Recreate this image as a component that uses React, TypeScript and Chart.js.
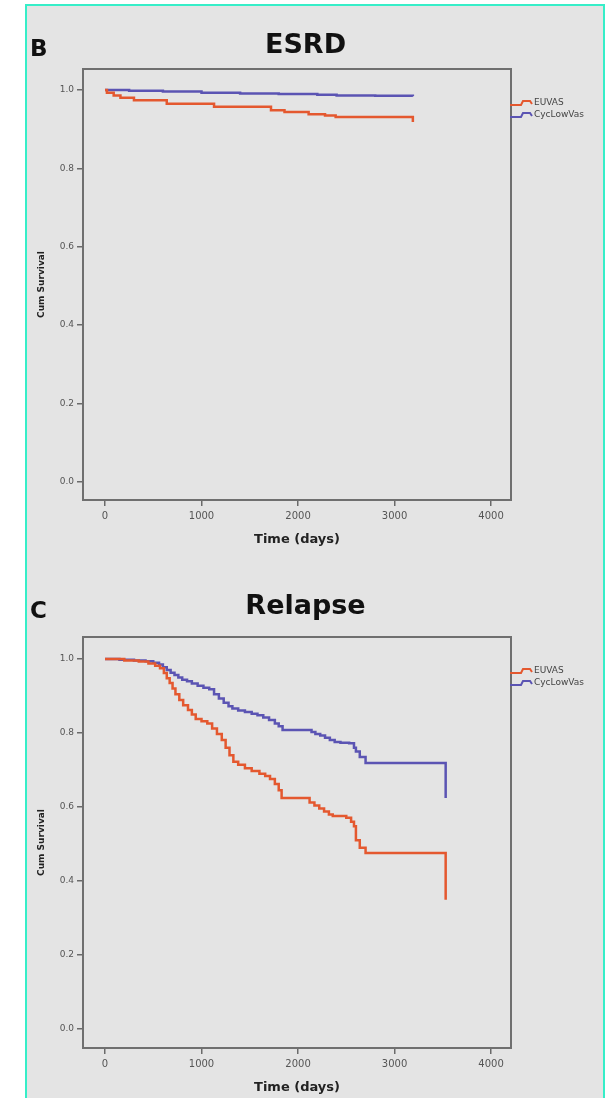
import React, { useEffect, useRef } from 'react';
import { Chart, registerables } from 'chart.js';

Chart.register(...registerables);

// ---------- data ----------
const seriesNames = ['EUVAS', 'CycLowVas'];
const seriesColors = ['#e4582f', '#5b54b3'];
const xTicks = [0, 1000, 2000, 3000, 4000];
const yTicks = [0, 0.2, 0.4, 0.6, 0.8, 1.0];

// ESRD (panel B)
const esrdEuvasDays = [0, 20, 90, 160, 300, 640, 1130, 1720, 1860, 2110, 2280, 2390, 3190];
const esrdEuvasSurv = [1.0, 0.993, 0.986, 0.98, 0.974, 0.965, 0.957, 0.948, 0.944, 0.938, 0.935, 0.931, 0.918];
const esrdCycDays = [0, 250, 600, 1000, 1400, 1800, 2200, 2400, 2800, 3190];
const esrdCycSurv = [1.0, 0.998, 0.996, 0.993, 0.991, 0.99, 0.988, 0.986, 0.985, 0.984];

// Relapse (panel C)
const relEuvasDays = [0, 200, 350, 450, 520, 570, 610, 640, 670, 700, 730, 770, 810, 860, 900, 940, 1000, 1060, 1110, 1160, 1210, 1250, 1290, 1330, 1380, 1450, 1520, 1600, 1660, 1710, 1760, 1800, 1830, 2120, 2170, 2220, 2270, 2320, 2360, 2500, 2550, 2580, 2600, 2640, 2700, 3530];
const relEuvasSurv = [1.0, 0.996, 0.993, 0.988, 0.982, 0.975, 0.962, 0.948, 0.935, 0.92, 0.905, 0.889, 0.875, 0.862, 0.85, 0.838, 0.832, 0.826, 0.812, 0.797, 0.781, 0.76, 0.74, 0.722, 0.714, 0.705, 0.697, 0.69, 0.684, 0.676, 0.662, 0.645, 0.624, 0.612, 0.604, 0.596, 0.588, 0.58, 0.576, 0.571, 0.56, 0.548, 0.51, 0.49, 0.476, 0.349];
const relCycDays = [0, 150, 300, 420, 500, 560, 600, 640, 680, 720, 760, 800, 850, 900, 960, 1020, 1080, 1130, 1180, 1230, 1280, 1320, 1380, 1450, 1520, 1580, 1640, 1700, 1760, 1800, 1840, 2140, 2180, 2230, 2280, 2330, 2380, 2440, 2530, 2580, 2600, 2640, 2700, 3530];
const relCycSurv = [1.0, 0.998, 0.996, 0.994, 0.99, 0.985, 0.978, 0.97, 0.963, 0.957, 0.95, 0.944, 0.94, 0.934, 0.928, 0.922, 0.918, 0.905, 0.893, 0.882, 0.872, 0.866, 0.861, 0.857, 0.852, 0.848, 0.842, 0.835, 0.826, 0.818, 0.808, 0.803, 0.797, 0.793, 0.787, 0.781, 0.776, 0.774, 0.772, 0.76, 0.75, 0.735, 0.719, 0.624];

const FONT = '"DejaVu Sans", "Liberation Sans", Arial, sans-serif';

type PanelSpec = {
  letter: string;
  title: string;
  days: number[][];
  surv: number[][];
  yMin: number;
  yMax: number;
  xMin: number;
  xMax: number;
  titlePadTop: number;
  titlePadBottom: number;
  xAxisHeight: number;
  xTitlePadBottom: number;
  letterY: number;
};

function toPoints(days: number[], surv: number[]) {
  return days.map((d, i) => ({ x: d, y: surv[i] }));
}

function decorPlugin(spec: PanelSpec) {
  return {
    id: 'decor' + spec.letter,
    beforeDatasetsDraw(chart: any) {
      const { ctx, chartArea } = chart;
      ctx.save();
      ctx.strokeStyle = '#6f6f6f';
      ctx.lineWidth = 2;
      ctx.strokeRect(chartArea.left, chartArea.top, chartArea.right - chartArea.left, chartArea.bottom - chartArea.top);
      ctx.restore();
    },
    afterDraw(chart: any) {
      const { ctx, chartArea } = chart;
      ctx.save();
      // panel letter
      ctx.fillStyle = '#111';
      ctx.font = `bold 23px ${FONT}`;
      ctx.textBaseline = 'middle';
      ctx.textAlign = 'left';
      ctx.fillText(spec.letter, 30, spec.letterY);
      // legend
      seriesNames.forEach((name, i) => {
        const x = chartArea.right - 1;
        const y = chartArea.top + 34 + 12 * i;
        ctx.beginPath();
        ctx.moveTo(x, y + 2);
        ctx.lineTo(x + 11, y + 2);
        ctx.lineTo(x + 13, y - 2);
        ctx.lineTo(x + 20, y - 2);
        ctx.lineTo(x + 22, y + 1);
        ctx.strokeStyle = seriesColors[i];
        ctx.lineWidth = 2;
        ctx.stroke();
        ctx.fillStyle = '#444';
        ctx.font = `9px ${FONT}`;
        ctx.textBaseline = 'middle';
        ctx.fillText(name, x + 24, y);
      });
      ctx.restore();
    },
  };
}

function makeConfig(spec: PanelSpec): any {
  return {
    type: 'line',
    data: {
      datasets: seriesNames.map((name, i) => ({
        label: name,
        data: toPoints(spec.days[i], spec.surv[i]),
        borderColor: seriesColors[i],
        backgroundColor: seriesColors[i],
        borderWidth: 2.5,
        pointRadius: 0,
        stepped: 'before',
        fill: false,
        yAxisID: 'y',
        xAxisID: 'x',
      })),
    },
    options: {
      responsive: false,
      animation: false,
      events: [],
      layout: { padding: 0 },
      plugins: {
        legend: { display: false },
        tooltip: { enabled: false },
        title: {
          display: true,
          text: spec.title,
          color: '#111',
          font: { family: FONT, size: 27, weight: 'bold' },
          padding: { top: spec.titlePadTop, bottom: spec.titlePadBottom },
          fullSize: true,
        },
      },
      scales: {
        x: {
          type: 'linear',
          min: spec.xMin,
          max: spec.xMax,
          afterBuildTicks: (axis: any) => {
            axis.ticks = xTicks.map((v) => ({ value: v }));
          },
          afterFit: (axis: any) => {
            axis.height = spec.xAxisHeight;
          },
          ticks: {
            color: '#555',
            font: { family: FONT, size: 10 },
            padding: 4,
            maxRotation: 0,
            callback: (v: any) => String(v),
          },
          grid: { display: true, drawOnChartArea: false, drawTicks: true, tickLength: 6, color: '#6a6a6a', lineWidth: 1.5 },
          border: { display: false },
          title: {
            display: true,
            text: 'Time (days)',
            color: '#222',
            font: { family: FONT, size: 13, weight: 'bold' },
            padding: { top: 0, bottom: spec.xTitlePadBottom },
          },
        },
        y: {
          type: 'linear',
          position: 'left',
          min: spec.yMin,
          max: spec.yMax,
          afterBuildTicks: (axis: any) => {
            axis.ticks = yTicks.map((v) => ({ value: v }));
          },
          afterFit: (axis: any) => {
            axis.width = 83;
          },
          ticks: {
            color: '#555',
            font: { family: FONT, size: 9 },
            padding: 3,
            callback: (v: any) => Number(v).toFixed(1),
          },
          grid: { display: true, drawOnChartArea: false, drawTicks: true, tickLength: 6, color: '#6a6a6a', lineWidth: 1.5 },
          border: { display: false },
          title: {
            display: true,
            text: 'Cum Survival',
            color: '#222',
            font: { family: FONT, size: 9, weight: 'bold' },
            padding: { top: 36, bottom: 0 },
          },
        },
        legendSpace: {
          type: 'linear',
          position: 'right',
          display: true,
          min: 0,
          max: 1,
          ticks: { display: false },
          grid: { display: false, drawTicks: false },
          border: { display: false },
          afterFit: (axis: any) => {
            axis.width = 100;
          },
        },
      },
    },
    plugins: [decorPlugin(spec)],
  };
}

const esrdSpec: PanelSpec = {
  letter: 'B',
  title: 'ESRD',
  days: [esrdEuvasDays, esrdCycDays],
  surv: [esrdEuvasSurv, esrdCycSurv],
  yMin: -0.047,
  yMax: 1.0536,
  xMin: -228,
  xMax: 4207,
  titlePadTop: 30,
  titlePadBottom: 6.6,
  xAxisHeight: 55,
  xTitlePadBottom: 8,
  letterY: 50,
};

const relapseSpec: PanelSpec = {
  letter: 'C',
  title: 'Relapse',
  days: [relEuvasDays, relCycDays],
  surv: [relEuvasSurv, relCycSurv],
  yMin: -0.0514,
  yMax: 1.0595,
  xMin: -228,
  xMax: 4207,
  titlePadTop: 35.8,
  titlePadBottom: 13.8,
  xAxisHeight: 50,
  xTitlePadBottom: 3,
  letterY: 57,
};

function Panel({ spec, top, height }: { spec: PanelSpec; top: number; height: number }) {
  const ref = useRef<HTMLCanvasElement | null>(null);
  useEffect(() => {
    if (!ref.current) return;
    const chart = new Chart(ref.current, makeConfig(spec));
    return () => chart.destroy();
  }, [spec]);
  return (
    <canvas
      ref={ref}
      width={611}
      height={height}
      style={{ position: 'absolute', left: 0, top, width: 611, height }}
    />
  );
}

export default function App() {
  return (
    <div style={{ position: 'absolute', left: 0, top: 0, width: 611, height: 1098, overflow: 'hidden', background: '#ffffff' }}>
      <div
        style={{
          position: 'absolute',
          left: 25,
          top: 4,
          width: 580,
          height: 1120,
          border: '2px solid #36eec8',
          background: '#e4e4e4',
          boxSizing: 'border-box',
        }}
      />
      <Panel spec={esrdSpec} top={0} height={555} />
      <Panel spec={relapseSpec} top={555} height={543} />
    </div>
  );
}
